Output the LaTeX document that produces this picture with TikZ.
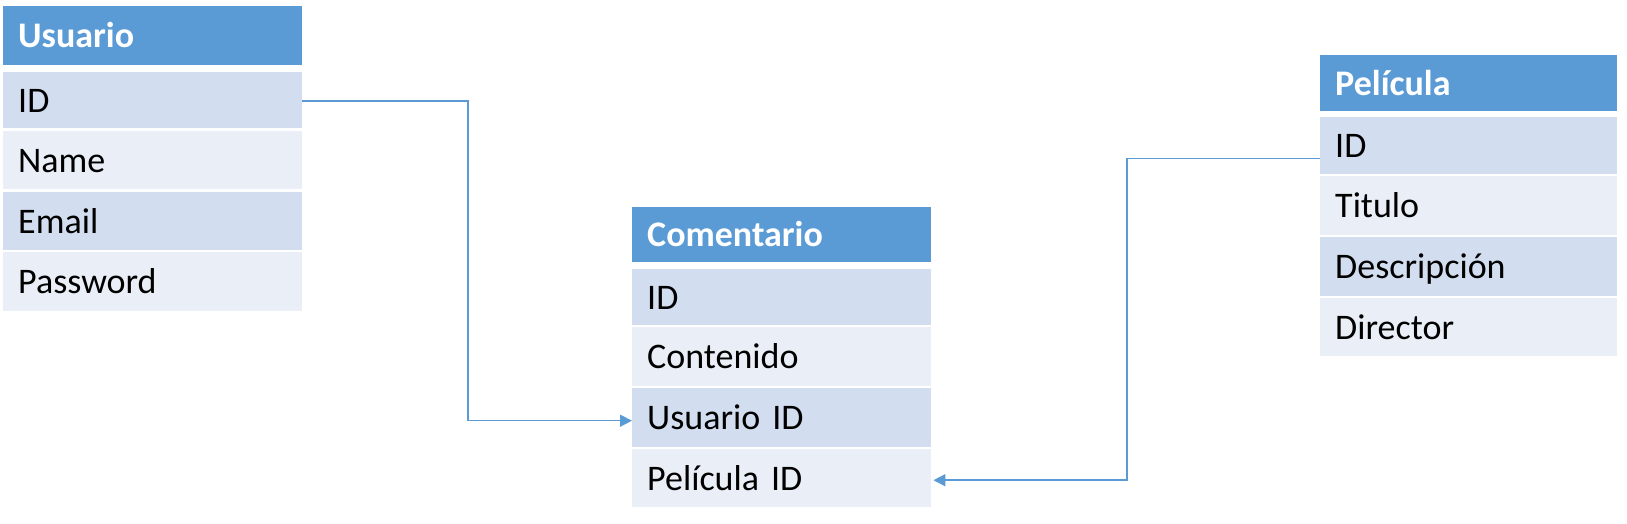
\documentclass[tikz,border=0pt]{standalone}
\usepackage{fontspec}
\setmainfont{Carlito}
\usetikzlibrary{arrows.meta}
\definecolor{hdr}{HTML}{5B9BD5}
\definecolor{rowA}{HTML}{D2DEEF}
\definecolor{rowB}{HTML}{EAEFF7}
\tikzset{
  cell/.style={rectangle, anchor=north west, inner xsep=15pt, inner ysep=0pt,
    text height=30pt, text depth=6pt, align=left, font=\fontsize{36}{40}\selectfont},
  hcell/.style={cell, fill=hdr, text=white, font=\fontsize{36}{40}\selectfont\bfseries},
  darkrow/.style={cell, fill=rowA},
  lightrow/.style={cell, fill=rowB},
  conn/.style={draw=hdr, line width=1.5pt, -{Triangle[length=12pt,width=12pt]}},
}
\begin{document}
\begin{tikzpicture}[x=1pt,y=-1pt]
\useasboundingbox (0,0) rectangle (1627,524);
% Usuario
\begin{scope}[every node/.append style={text width=269pt}]
\node[hcell, minimum height=59pt] (u-h) at (3,6) {Usuario};
\node[darkrow, minimum height=56pt] (u-id) at (3,72) {ID};
\node[lightrow, minimum height=58pt] (u-name) at (3,131) {Name};
\node[darkrow, minimum height=58pt] (u-email) at (3,192) {Email};
\node[lightrow, minimum height=59pt] (u-pass) at (3,252) {Password};
% Comentario
\node[hcell, minimum height=55pt] (c-h) at (632,207) {Comentario};
\node[darkrow, minimum height=56pt] (c-id) at (632,269) {ID};
\node[lightrow, minimum height=59pt] (c-cont) at (632,327) {Contenido};
\node[darkrow, minimum height=59pt] (c-uid) at (632,388) {Usuario ID};
\node[lightrow, minimum height=58pt] (c-pid) at (632,449) {Película ID};
\end{scope}
% Película
\begin{scope}[every node/.append style={text width=267pt}]
\node[hcell, minimum height=56pt] (p-h) at (1320,55) {Película};
\node[darkrow, minimum height=57pt] (p-id) at (1320,117) {ID};
\node[lightrow, minimum height=59pt] (p-tit) at (1320,176) {Titulo};
\node[darkrow, minimum height=59pt] (p-desc) at (1320,237) {Descripción};
\node[lightrow, minimum height=58pt] (p-dir) at (1320,298) {Director};
\end{scope}
% connectors
\coordinate (e1) at (468,0);
\coordinate (e2) at (1127,0);
\coordinate (ustart) at ([yshift=-1pt]u-id.east);
\coordinate (uend) at ([yshift=-3pt]c-uid.west);
\coordinate (pstart) at ([yshift=-13pt]p-id.west);
\coordinate (pend) at ([xshift=2pt,yshift=-2pt]c-pid.east);
\draw[conn] (ustart) -- (ustart -| e1) |- (uend);
\draw[conn] (pstart) -- (pstart -| e2) |- (pend);
\end{tikzpicture}
\end{document}
